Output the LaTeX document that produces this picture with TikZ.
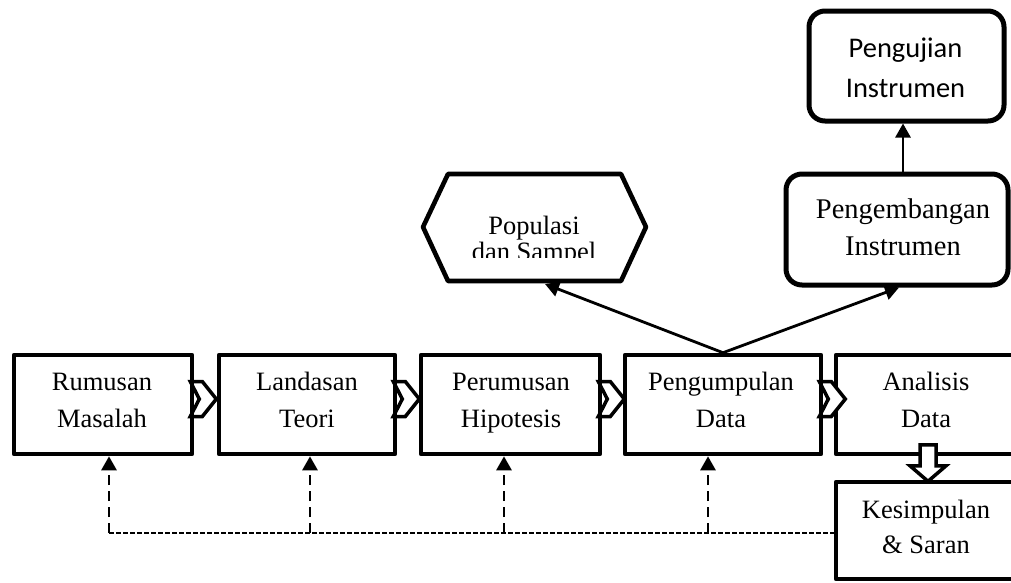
\documentclass[tikz,border=0pt]{standalone}
\usepackage{fontspec}
\setmainfont{Liberation Serif}
\newfontfamily\calfont{Carlito}
\usetikzlibrary{arrows.meta,calc,backgrounds}
\newcommand{\twoline}[2]{\begin{tabular}[t]{@{}c@{}}#1\\#2\end{tabular}}
\begin{document}
\begin{tikzpicture}[x=1pt,y=-1pt,
  box/.style={draw, rectangle, line width=4.6pt, line join=round, inner sep=0pt, minimum height=99pt},
  rbox/.style={draw, rectangle, rounded corners=16pt, line width=5pt, inner sep=0pt},
  lbl/.style={anchor=base, inner sep=0pt, font=\fontsize{26.5}{37}\selectfont},
  chev/.style={draw, fill=white, line width=3.5pt, miter limit=10},
  hollow/.style={draw, fill=white, line width=3.5pt, miter limit=10},
  hexa/.style={draw, line width=4.6pt, line join=round},
  conn/.style={line width=2.8pt, -{Triangle[width=15pt,length=14pt]}},
  dashv/.style={line width=2.8pt, dash pattern=on 10pt off 6pt, -{Triangle[width=15pt,length=14pt]}},
  dashh/.style={line width=1.9pt, dash pattern=on 4.5pt off 2.5pt}]
\useasboundingbox (0,0) rectangle (1011,582);
\clip (0,0) rectangle (1011,582);

% main row boxes
\node[box, minimum width=178pt] (b1) at (103,404.5) {};
\node[box, minimum width=176pt] (b2) at (307,404.5) {};
\node[box, minimum width=179pt] (b3) at (510.5,404.5) {};
\node[box, minimum width=196pt] (b4) at (723,404.5) {};
\node[box, minimum width=184pt, minimum height=97pt] (k) at (928,530.5) {};

\begin{pgfonlayer}{background}
  \node[box, minimum width=184pt] (b5) at (928,404.5) {};
  \foreach \b in {b1,b2,b3,b4}{
    \draw[chev, shift={(\b.east)}] (-4,-23) -- (8,-23) -- (22,-5.5) -- (8,12) -- (-4,12) -- (5,-5.5) -- cycle;
  }
\end{pgfonlayer}

% texts of the row
\node[lbl] (t1) at (102,390) {\twoline{Rumusan}{Masalah}};
\node[lbl] (t2) at (307,390) {\twoline{Landasan}{Teori}};
\node[lbl] (t3) at (511,390) {\twoline{Perumusan}{Hipotesis}};
\node[lbl] (t4) at (721,390) {\twoline{Pengumpulan}{Data}};
\node[lbl] (t5) at (926,390) {\twoline{Analisis}{Data}};
\node[lbl, font=\fontsize{26.5}{35}\selectfont] (tk) at (926,518) {\twoline{Kesimpulan}{\& Saran}};

% hollow arrow Analisis -> Kesimpulan
\begin{scope}[shift={(b5.south)}]
  \draw[hollow] (-8,-11.5) -- (8,-11.5) -- (8,9.5) -- (18,9.5) -- (0,25) -- (-18,9.5) -- (-8,9.5) -- cycle;
\end{scope}

% Populasi hexagon
\draw[hexa] (423,227) -- (448,174) -- (621,174) -- (646,227) -- (621,281) -- (448,281) -- cycle;
\coordinate (popb) at (545,284);
\begin{scope}
  \clip (423,150) rectangle (646,257);
  \node[lbl, font=\fontsize{26.5}{26}\selectfont] (tp) at (534,234) {\twoline{Populasi}{dan Sampel}};
\end{scope}

% Pengembangan and Pengujian
\node[rbox, minimum width=222pt, minimum height=111pt] (peng) at (897,229.5) {};
\node[rbox, minimum width=195pt, minimum height=110pt] (uji) at (906.5,66) {};
\node[anchor=base, inner sep=0pt, font=\fontsize{28.5}{37}\selectfont] (tpe) at (903,218) {\twoline{Pengembangan}{Instrumen}};
\node[anchor=base, inner sep=0pt, font=\calfont\fontsize{28.5}{40}\selectfont] (tu) at (905.5,57) {\twoline{Pengujian}{Instrumen}};

% connectors
\draw[conn] ($(peng.north)+(6,0)$) -- ($(uji.south)+(-3.5,0)$);
\draw[conn] (b4.north) -- (popb);
\draw[conn] (b4.north) -- ($(peng.south)+(2,0)$);

% dashed feedback
\coordinate (f1) at (109,533);
\coordinate (f2) at (310,533);
\coordinate (f3) at (504,533);
\coordinate (f4) at (708,533);
\draw[dashh] (f1) -- (k.west |- f1);
\draw[dashv] (f1) -- (f1 |- b1.south);
\draw[dashv] (f2) -- (f2 |- b2.south);
\draw[dashv] (f3) -- (f3 |- b3.south);
\draw[dashv] (f4) -- (f4 |- b4.south);
\end{tikzpicture}
\end{document}
